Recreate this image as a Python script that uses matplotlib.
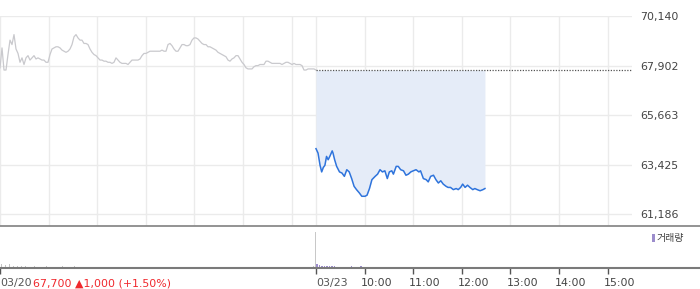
import numpy as np
import matplotlib
matplotlib.use("Agg")
import matplotlib.pyplot as plt
from matplotlib.lines import Line2D

# ---------------- data ----------------
prev_close = 67700
y_ticks = [61186, 63425, 65663, 67902, 70140]
y_tick_labels = ["61,186", "63,425", "65,663", "67,902", "70,140"]

# previous day (03/20) prices, 09:00-15:30, evenly spaced samples
day1_price = [67800, 68700, 67700, 67700, 68400, 69050, 68850, 69300, 68650, 68450,
              68050, 68250, 67950, 68250, 68350, 68150, 68250, 68350, 68200, 68250,
              68200, 68150, 68150, 68050, 68050, 68400, 68650, 68700, 68750, 68750,
              68700, 68600, 68550, 68500, 68550, 68650, 68850, 69200, 69300, 69150,
              69050, 69050, 68900, 68900, 68850, 68650, 68500, 68400, 68350, 68250,
              68150, 68150, 68100, 68100, 68050, 68050, 68000, 68050, 68250, 68150,
              68050, 68000, 68000, 68000, 67950, 68050, 68150, 68150, 68150, 68150,
              68200, 68350, 68450, 68450, 68500, 68550, 68550, 68550, 68550, 68550,
              68550, 68600, 68550, 68550, 68850, 68900, 68800, 68650, 68550, 68550,
              68700, 68850, 68850, 68800, 68800, 68850, 69050, 69150, 69150, 69100,
              69000, 68900, 68850, 68850, 68750, 68750, 68700, 68650, 68600, 68500,
              68450, 68400, 68350, 68300, 68150, 68100, 68200, 68250, 68350, 68350,
              68200, 68050, 67950, 67800, 67750, 67750, 67750, 67850, 67900, 67900,
              67950, 67950, 67950, 68100, 68100, 68050, 68000, 68000, 68000, 68000,
              68000, 67950, 68000, 68050, 68050, 68000, 67950, 68000, 67950, 67950,
              67950, 67900, 67700, 67700, 67750, 67750, 67750, 67750, 67700]

# current day (03/23): minutes after 09:00 and prices
day2_min = [0, 2.5, 5, 7, 9, 11, 13, 15, 17, 20, 21, 23, 25.5, 29, 32, 35, 38, 41, 44, 47,
            50, 53.5, 56.5, 60.5, 63, 66, 69, 73, 76, 79, 82, 85, 88, 90.5, 93.5, 95.5, 99,
            101.5, 104.5, 108, 111, 114, 117, 120, 123.5, 127, 129, 132.5, 136, 138.5,
            141.5, 145, 148, 151, 154, 157, 160.5, 163, 166, 169.5, 173, 175.5, 178.5,
            181, 184, 187, 190, 193.5, 196, 199, 202.5, 206, 208.5]
day2_price = [64150, 63950, 63400, 63100, 63300, 63400, 63800, 63650, 63800, 64050,
              63950, 63650, 63350, 63100, 63050, 62900, 63200, 63100, 62800, 62450,
              62300, 62150, 62000, 62000, 62050, 62350, 62750, 62900, 63000, 63200,
              63100, 63150, 62800, 63100, 63150, 63000, 63350, 63350, 63200, 63150,
              62950, 63000, 63100, 63150, 63200, 63100, 63150, 62800, 62750, 62650,
              62900, 62950, 62750, 62600, 62700, 62550, 62450, 62400, 62400, 62300,
              62350, 62300, 62400, 62550, 62400, 62500, 62400, 62300, 62350, 62300,
              62250, 62300, 62350]

# volumes (thousand shares)
day1_vol = [34, 22, 30, 18, 16, 14, 16, 12, 14, 11, 12, 14, 10, 12, 10, 14, 12, 10, 16, 10,
            9, 11, 9, 8, 8, 7, 9, 10, 7, 9, 11, 7, 8, 8, 7, 7, 9, 7, 7, 9,
            7, 9, 7, 6, 7, 9, 7, 7, 8, 7, 7, 7, 9, 7, 7, 7, 9, 6, 7, 7,
            9, 7, 7, 7, 7, 9, 7, 9, 7, 9, 9, 10, 10, 9, 10, 11, 12, 14]
day1_close_vol = 290
day2_vol = [36, 26, 20, 18, 17, 16, 18, 14, 12, 11, 10, 11, 10, 12, 14, 11, 10, 12, 14, 10,
            9, 8, 10, 12, 9, 8, 9, 7, 8, 10, 8, 7, 8, 9, 7, 7, 8, 7, 6, 8,
            7, 7, 6, 7, 8, 6, 7, 6, 7, 6, 7, 6, 6, 7, 6, 6, 7, 6, 6, 6,
            7, 6, 6, 6, 7, 6, 6, 6, 6]

time_ticks = ["10:00", "11:00", "12:00", "13:00", "14:00", "15:00"]
date1, date2 = "03/20", "03/23"
change_text = "67,700 \u25b21,000 (+1.50%)"
legend_label = "거래량"

# ---------------- layout ----------------
W, H = 700, 289
fig = plt.figure(figsize=(W / 100, H / 100), dpi=100)

def fx(px):
    return px / W

def fy(py):
    return 1 - py / H

SESSION = 390  # minutes per day
XMAX = 2 * SESSION
plot_w = 632
FS = 7.9

ax = fig.add_axes([0, fy(226), fx(plot_w), (226 - 16) / H])
axv = fig.add_axes([0, fy(268), fx(plot_w), (268 - 227) / H])

grid_c = "#ebebeb"
gray_line = "#c9c9cd"
blue = "#2f74dc"
fill_c = "#e5ecf8"

# main chart
t1 = np.linspace(0, SESSION, len(day1_price))
t2 = SESSION + np.array(day2_min)
ax.plot(t1, day1_price, color=gray_line, lw=0.9, zorder=3)
ax.fill_between(t2, day2_price, prev_close, color=fill_c, lw=0, zorder=1)
ax.plot(t2, day2_price, color=blue, lw=1.1, zorder=4)
ax.plot([SESSION, XMAX], [prev_close, prev_close], color="#555555", lw=0.9,
        linestyle=(0, (1, 1.2)), zorder=3, clip_on=False)

ax.set_xlim(0, XMAX)
ax.set_ylim(60658, 70140)
grid_x = [h * 60 for h in range(0, 7)] + [SESSION + h * 60 for h in range(0, 7)]
for gx in grid_x:
    ax.axvline(gx, color=grid_c, lw=1, zorder=0)
for gy in y_ticks:
    ax.axhline(gy, color=grid_c, lw=1, zorder=0)
ax.set_xticks([])
ax.yaxis.tick_right()
ax.set_yticks(y_ticks)
ax.set_yticklabels(y_tick_labels)
ax.tick_params(axis="y", length=0, pad=6, labelsize=FS, labelcolor="#444444")
for s in ax.spines.values():
    s.set_visible(False)
ax.patch.set_alpha(0)

# volume chart
v1t = np.arange(len(day1_vol)) * 5 + 2
axv.bar(v1t, day1_vol, width=1.3, color="#c4c4c4", lw=0)
axv.bar([SESSION - 0.6], [day1_close_vol], width=1.2, color="#c8c8c8", lw=0)
v2t = SESSION + 1.5 + np.arange(len(day2_vol)) * 3
axv.bar(v2t, day2_vol, width=1.8, color="#9c8dcc", lw=0)
axv.set_xlim(0, XMAX)
axv.set_ylim(0, 328)
axv.set_yticks([])
tick_pos = [0, SESSION] + [SESSION + h * 60 for h in range(1, 7)]
axv.set_xticks(tick_pos)
axv.set_xticklabels([])
axv.tick_params(axis="x", length=4, width=1, color="#555555", direction="out")
for s in axv.spines.values():
    s.set_visible(False)
axv.patch.set_alpha(0)

# separators
fig.add_artist(Line2D([0, 1], [fy(226), fy(226)], color="#8a8a8a", lw=1.3))
fig.add_artist(Line2D([0, 1], [fy(268), fy(268)], color="#7a7a7a", lw=1.5))

# legend
fig.add_artist(plt.Rectangle((fx(652), fy(242)), fx(3), 8 / H, color="#9c8dcc", lw=0))
fig.text(fx(657), fy(237.5), legend_label, family=["Noto Sans CJK KR", "DejaVu Sans"],
         fontsize=7.2, color="#444444", va="center", ha="left")

# bottom labels
lab_y = fy(283)
fig.text(fx(0), lab_y, date1, fontsize=FS, color="#555555", va="center", ha="left")
fig.text(fx(33), lab_y, change_text, fontsize=FS, color="#f0282d", va="center", ha="left")
fig.text(fx(316), lab_y, date2, fontsize=FS, color="#555555", va="center", ha="left")
for i, lab in enumerate(time_ticks):
    xm = SESSION + (i + 1) * 60
    px = xm / XMAX * plot_w - 4
    fig.text(fx(px), lab_y, lab, fontsize=FS, color="#444444", va="center", ha="left")

fig.savefig("out.png", dpi=100)
